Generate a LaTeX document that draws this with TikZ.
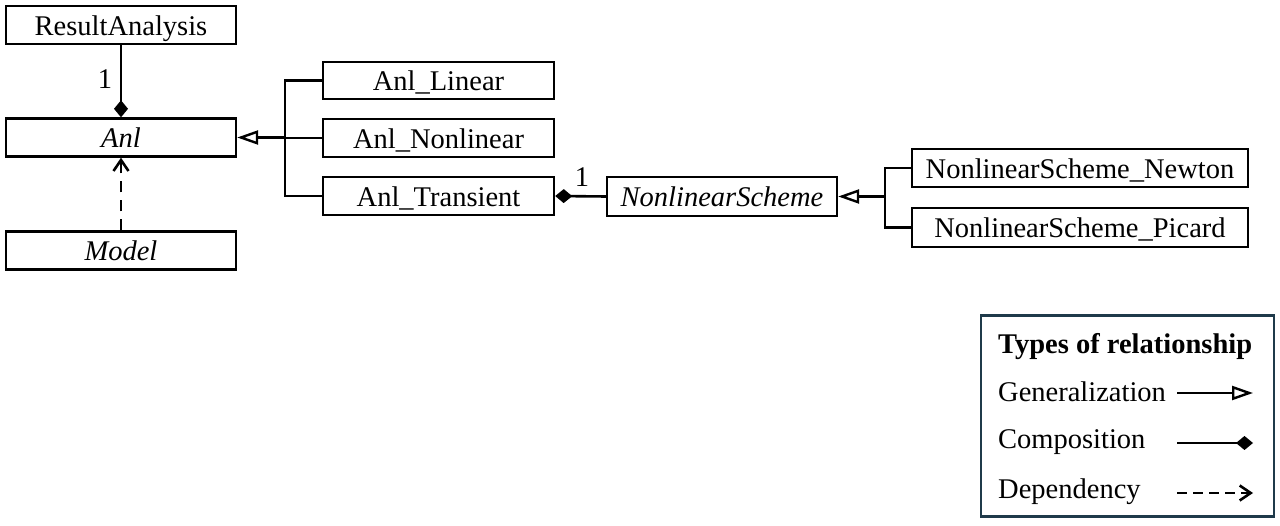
\documentclass[tikz,border=0pt]{standalone}
\usepackage{fontspec}
\setmainfont{Liberation Serif}
\usetikzlibrary{arrows.meta}
\definecolor{legendborder}{HTML}{1F3A4A}
\begin{document}
\begin{tikzpicture}[x=1pt,y=-1pt,
  cls/.style={draw, line width=2.4pt, inner sep=0pt, text height=23pt, text depth=2pt, font=\fontsize{28.5}{34}\selectfont},
  txt/.style={inner sep=0pt, font=\fontsize{28.5}{34}\selectfont},
  conn/.style={line width=2.6pt},
  gen/.style={conn, -{Triangle[open, length=21pt, width=14pt, line width=2.4pt]}},
  comp/.style={conn, -{Diamond[length=17pt, width=14pt]}},
  dep/.style={conn, dash pattern=on 11pt off 8pt, -{Straight Barb[length=11pt, width=15pt, line width=2.6pt]}}]
\useasboundingbox (0,0) rectangle (1280,526);
% classes
\node[cls, minimum width=230pt, minimum height=38pt] (ra) at (121,25) {ResultAnalysis};
\node[cls, minimum width=230pt, minimum height=38pt] (anl) at (121,137.5) {\itshape Anl};
\node[cls, minimum width=230pt, minimum height=38pt] (model) at (121,250.5) {\itshape Model};
\node[cls, minimum width=231pt, minimum height=37pt] (lin) at (438.5,80.5) {Anl\_Linear};
\node[cls, minimum width=231pt, minimum height=38pt] (nonlin) at (438.5,138) {Anl\_Nonlinear};
\node[cls, minimum width=231pt, minimum height=38pt] (trans) at (438.5,196) {Anl\_Transient};
\node[cls, minimum width=230pt, minimum height=39pt] (ns) at (722,196.5) {\itshape NonlinearScheme};
\node[cls, minimum width=336pt, minimum height=38pt] (newton) at (1080,168) {NonlinearScheme\_Newton};
\node[cls, minimum width=336pt, minimum height=39pt] (picard) at (1080,227.5) {NonlinearScheme\_Picard};
% connectors
\draw[comp] (ra.south) -- (anl.north);
\node[txt] (m1) at (105,79) {1};
\draw[dep] (model.north) -- (anl.south);
\coordinate (busA) at (285,137.5);
\draw[conn] (lin.west) -| (busA) |- (trans.west);
\draw[conn] (nonlin.west) -- (nonlin.west -| busA);
\draw[gen] (busA) -- (anl.east);
\draw[comp] (ns.west) -- (trans.east);
\node[txt] (m2) at (582,177) {1};
\coordinate (busB) at (885,196.5);
\draw[conn] (newton.west) -| (busB) |- (picard.west);
\draw[gen] (busB) -- (ns.east);
% legend
\node[draw=legendborder, line width=2.4pt, minimum width=293pt, minimum height=201pt, inner sep=0pt] (legend) at (1127.5,416) {};
\node[txt, anchor=west, font=\fontsize{28.5}{34}\selectfont\bfseries] (lt) at (998,347) {Types of relationship};
\node[txt, anchor=west] (lg) at (998,392) {Generalization};
\node[txt, anchor=west] (lc) at (998,442) {Composition};
\node[txt, anchor=west] (ld) at (998,492) {Dependency};
\coordinate (g1) at (1177,393);
\coordinate (g2) at (1253,393);
\coordinate (c1) at (1177,443);
\coordinate (c2) at (1253,443);
\coordinate (d1) at (1177,493);
\coordinate (d2) at (1253,493);
\draw[gen] (g1) -- (g2);
\draw[comp] (c1) -- (c2);
\draw[dep, dash pattern=on 10pt off 6pt] (d1) -- (d2);
\end{tikzpicture}
\end{document}
